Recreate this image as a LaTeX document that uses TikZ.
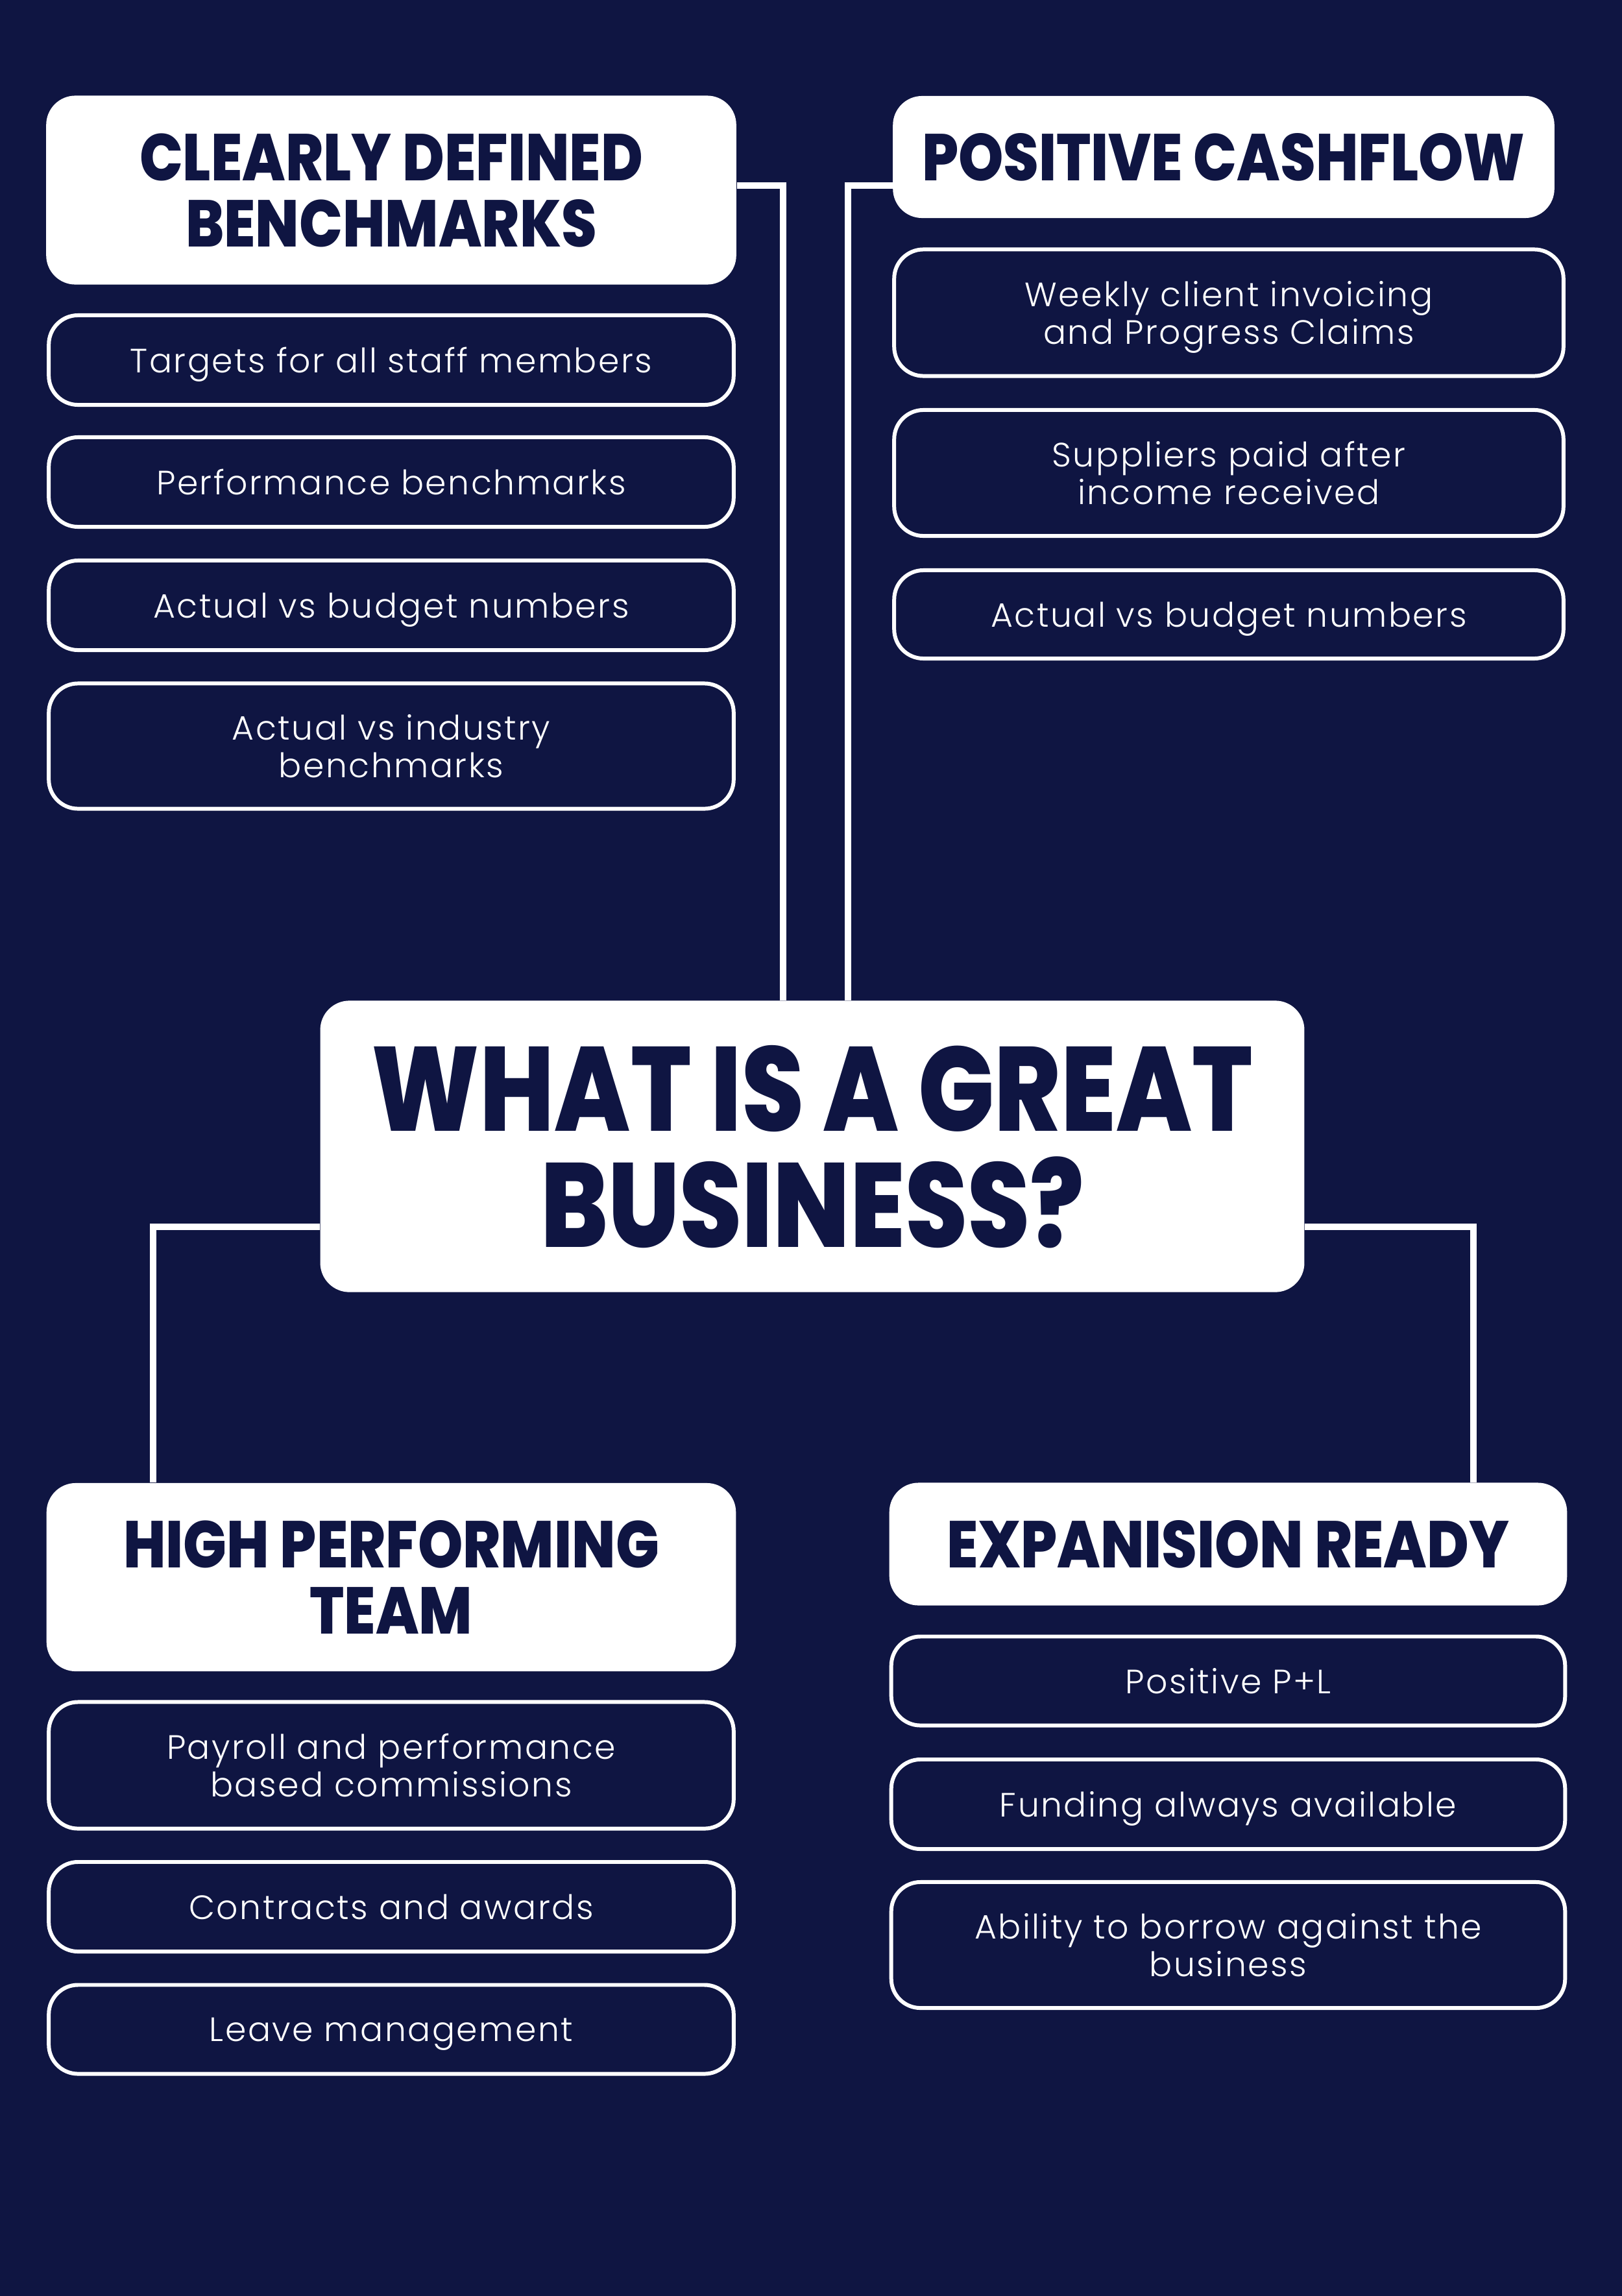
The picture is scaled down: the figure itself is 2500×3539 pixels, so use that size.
\documentclass[tikz,border=0pt]{standalone}
\usepackage{fontspec}
\newfontfamily\bodyfont{Poppins}[UprightFont={* Light},LetterSpace=4.8]
\newfontfamily\headfont{Poppins}[UprightFont={* ExtraBold},FakeStretch=0.865]
\newfontfamily\titlefont{Poppins}[UprightFont={* ExtraBold},FakeStretch=0.84]
\definecolor{navy}{HTML}{0F1542}
\tikzset{
  link/.style={draw=white,line width=3.1pt},
  headbox/.style={fill=white,text=navy,rounded corners=12.8pt,inner sep=0pt,align=center,
    text depth=-3pt,font=\headfont\fontsize{29}{29}\selectfont},
  itembox/.style={draw=white,line width=1.7pt,text=white,rounded corners=12.8pt,inner sep=0pt,
    align=center,text depth=0pt,font=\bodyfont\fontsize{14.8}{16.6}\selectfont}}

\begin{document}
\begin{tikzpicture}[x=0.01cm,y=-0.01cm]
\useasboundingbox (0,0) rectangle (2500,3539);
\fill[navy] (0,0) rectangle (2500,3539);
% headers
\node[headbox,minimum width=10.63cm,minimum height=2.91cm] (cdb) at (603,293) {CLEARLY DEFINED\\BENCHMARKS};
\node[headbox,minimum width=10.19cm,minimum height=1.88cm] (pc) at (1886,242) {POSITIVE CASHFLOW};
\node[headbox,minimum width=10.62cm,minimum height=2.90cm] (hpt) at (603,2431) {HIGH PERFORMING\\TEAM};
\node[headbox,minimum width=10.44cm,minimum height=1.89cm] (er) at (1893,2380) {EXPANISION READY};
\node[headbox,minimum width=15.16cm,minimum height=4.49cm,font=\titlefont\fontsize{52.5}{51}\selectfont] (main) at (1252,1767) {WHAT IS A GREAT\\BUSINESS?};
% items
\foreach \n/\x/\y/\w/\h/\t in {
  l1/603/555/10.55/1.38/{Targets for all staff members},
  l2/603/743/10.55/1.38/{Performance benchmarks},
  l3/603/933/10.55/1.38/{Actual vs budget numbers},
  l4/603/1150/10.55/1.93/{Actual vs industry\\benchmarks},
  r1/1894/482/10.31/1.95/{Weekly client invoicing\\and Progress Claims},
  r2/1894/729/10.31/1.94/{Suppliers paid after\\income received},
  r3/1894/947/10.31/1.36/{Actual vs budget numbers},
  b1/603/2721/10.55/1.95/{Payroll and performance\\based commissions},
  b2/603/2939/10.55/1.38/{Contracts and awards},
  b3/603/3128/10.55/1.37/{Leave management},
  e1/1893/2591/10.38/1.37/{Positive P+L},
  e2/1893/2781/10.38/1.38/{Funding always available},
  e3/1893/2998/10.38/1.94/{Ability to borrow against the\\business}}
  {\node[itembox,minimum width=\w cm,minimum height=\h cm] (\n) at (\x,\y) {\t};}
% connectors
\coordinate (tl) at (1207,286);\coordinate (tr) at (1307,286);\coordinate (bl) at (236,1891);\coordinate (br) at (2271,1891);
\draw[link] (cdb.east |- tl) -| (tl |- main.north);
\draw[link] (pc.west |- tr) -| (tr |- main.north);
\draw[link] (main.west |- bl) -| (bl |- hpt.north);
\draw[link] (main.east |- br) -| (br |- er.north);
\end{tikzpicture}
\end{document}
